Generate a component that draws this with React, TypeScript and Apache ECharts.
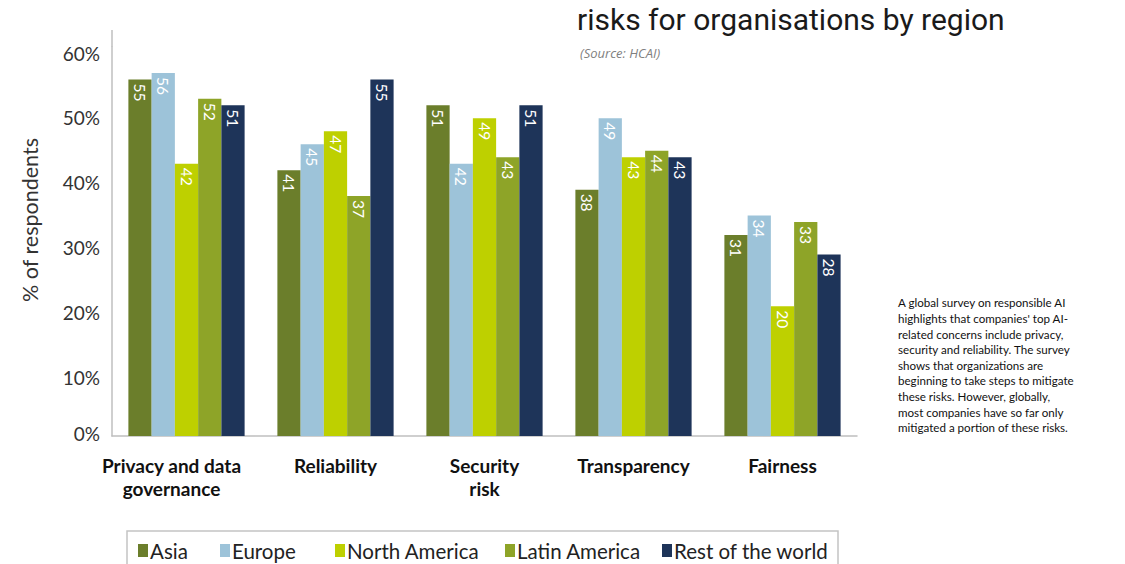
import React, { useEffect, useRef } from "react";
import * as echarts from "echarts";

const categories = ["Privacy and data\ngovernance", "Reliability", "Security\nrisk", "Transparency", "Fairness"];
const seriesNames = ["Asia", "Europe", "North America", "Latin America", "Rest of the world"];
const asia = [55, 41, 51, 38, 31];
const europe = [56, 45, 42, 49, 34];
const northAmerica = [42, 47, 49, 43, 20];
const latinAmerica = [52, 37, 43, 44, 33];
const restOfWorld = [51, 55, 51, 43, 28];
const seriesColors = ["#6b7e2b", "#9dc3d9", "#bed000", "#8ea428", "#1e3459"];

const titleText = "risks for organisations by region";
const sourceText = "(Source: HCAI)";
const axisTitle = "% of respondents";
const sideLines = [
  "A global survey on responsible AI",
  "highlights that companies' top AI-",
  "related concerns include privacy,",
  "security and reliability. The survey",
  "shows that organizations are",
  "beginning to take steps to mitigate",
  "these risks. However, globally,",
  "most companies have so far only",
  "mitigated a portion of these risks.",
];

const legendLefts = [138, 220, 335, 505, 662];

export default function App() {
  const ref = useRef<HTMLDivElement>(null);
  useEffect(() => {
    if (!ref.current) return;
    const chart = echarts.init(ref.current, undefined, { renderer: "svg" });
    const allData = [asia, europe, northAmerica, latinAmerica, restOfWorld];
    chart.setOption({
      animation: false,
      backgroundColor: "#ffffff",
      grid: { left: 112, right: 268, top: 47, bottom: 128, containLabel: false },
      legend: seriesNames.map((name, i) => ({
        left: legendLefts[i],
        top: 540,
        icon: "rect",
        itemWidth: 10,
        itemHeight: 13,
        padding: 0,
        textStyle: { fontFamily: "Lato", fontSize: 20.5, color: "#222", padding: [0, 0, 0, -3] },
        data: [name],
      })),
      xAxis: {
        type: "category",
        data: categories,
        axisLine: { show: true, lineStyle: { color: "#bfbfbf", width: 1.5 } },
        axisTick: { show: false },
        axisLabel: {
          interval: 0,
          margin: 18,
          formatter: (v: string, i: number) =>
            v
              .split("\n")
              .map((l) => (i === 0 ? `{f|${l}}` : `{c|${l}}`))
              .join("\n"),
          rich: {
            c: { fontFamily: "Lato", fontWeight: "bold", fontSize: 19, lineHeight: 23, color: "#111" },
            f: {
              fontFamily: "Lato",
              fontWeight: "bold",
              fontSize: 19,
              lineHeight: 23,
              color: "#111",
              padding: [0, 30, 0, 0],
            },
          },
        },
      },
      yAxis: {
        type: "value",
        min: 0,
        max: 60,
        interval: 10,
        splitLine: { show: false },
        axisLine: { show: true, lineStyle: { color: "#bfbfbf", width: 1.5 } },
        axisTick: { show: false },
        axisLabel: {
          margin: 12,
          formatter: (v: number) => (v === 0 ? `{z|${v}%}` : `{n|${v}%}`),
          rich: {
            n: { fontFamily: "Lato", fontSize: 19, color: "#333", padding: [12, 0, 0, 0] },
            z: { fontFamily: "Lato", fontSize: 19, color: "#333", padding: [0, 0, 6, 0] },
          },
        },
      },
      series: allData.map((d, i) => ({
        name: seriesNames[i],
        type: "bar",
        data: d,
        barGap: "0%",
        barCategoryGap: "22%",
        itemStyle: { color: seriesColors[i] },
        label: {
          show: true,
          position: "insideTop",
          rotate: -90,
          align: "left",
          verticalAlign: "middle",
          distance: 4,
          fontFamily: "Lato",
          fontSize: 15.5,
          color: "#ffffff",
        },
      })),
      graphic: [
        {
          type: "line",
          shape: { x1: 112, y1: 30, x2: 112, y2: 47 },
          style: { stroke: "#bfbfbf", lineWidth: 1.5 },
        },
        {
          type: "rect",
          shape: { x: 127, y: 531, width: 711, height: 60 },
          style: { fill: "none", stroke: "#c4c4c4", lineWidth: 1.5 },
          silent: true,
        },
        {
          type: "text",
          x: 577,
          y: 19.5,
          style: {
            text: titleText,
            font: "30px Roboto",
            fill: "#1a1a1a",
            verticalAlign: "middle",
          },
        },
        {
          type: "text",
          x: 580,
          y: 53,
          style: {
            text: sourceText,
            font: "italic 13px 'Open Sans'",
            fill: "#808080",
            verticalAlign: "middle",
          },
        },
        {
          type: "text",
          x: 30,
          y: 220,
          rotation: Math.PI / 2,
          style: {
            text: axisTitle,
            font: "21.5px Lato",
            fill: "#333",
            align: "center",
            verticalAlign: "middle",
          },
        },
        {
          type: "text",
          x: 898,
          y: 295,
          style: {
            text: sideLines.join("\n"),
            font: "11.6px Lato",
            lineHeight: 15.6,
            fill: "#111",
            verticalAlign: "top",
          },
        },
      ],
    });
    return () => chart.dispose();
  }, []);
  return (
    <div
      ref={ref}
      style={{ position: "absolute", left: 0, top: 0, width: 1125, height: 564, background: "#fff" }}
    />
  );
}
